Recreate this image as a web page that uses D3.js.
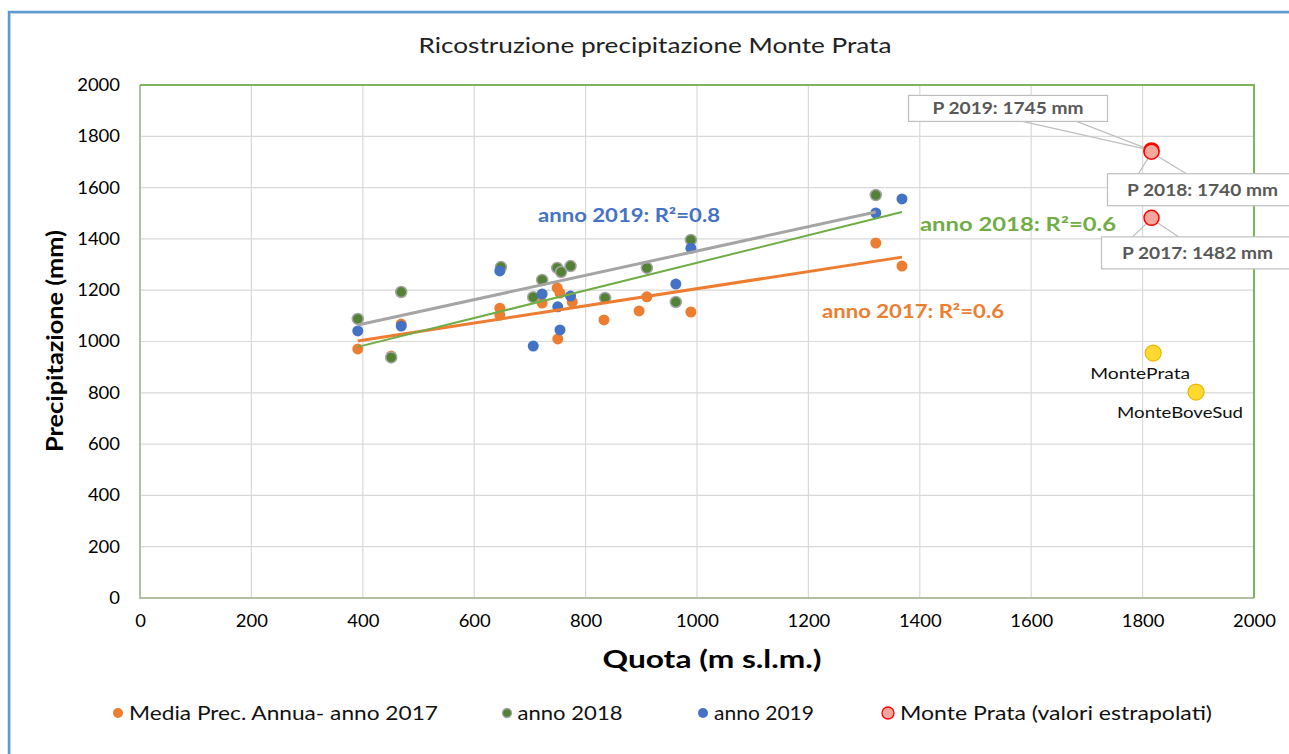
<!DOCTYPE html>
<html>
<head>
<meta charset="utf-8">
<script src="https://cdn.jsdelivr.net/npm/d3@7"></script>
<style>
  body { margin: 0; background: #fff; }
  svg { display: block; font-family: Lato, "Noto Sans", sans-serif; }
</style>
</head>
<body>
<div id="chart"></div>
<script>
// Station data (quota in m, precipitation in mm)
var quota2017 = [391, 451, 469, 646, 646, 722, 749, 750, 754, 776, 833, 896, 910, 989, 1321, 1368];
var prec2017  = [971, 943, 1068, 1130, 1103, 1150, 1209, 1010, 1189, 1154, 1084, 1119, 1174, 1115, 1384, 1294];

var quota2018 = [391, 451, 469, 648, 706, 722, 749, 756, 773, 835, 910, 962, 989, 1321];
var prec2018  = [1088, 938, 1193, 1290, 1173, 1240, 1287, 1271, 1294, 1170, 1287, 1154, 1396, 1571];

var quota2019 = [391, 469, 646, 706, 722, 750, 754, 773, 962, 989, 1321, 1368];
var prec2019  = [1041, 1060, 1275, 982, 1185, 1135, 1045, 1177, 1224, 1364, 1501, 1556];

// Trendline end points
var trendQuota2017 = [391, 1368];
var trendPrec2017  = [1002, 1329];
var trendQuota2018 = [391, 1368];
var trendPrec2018  = [979, 1505];
var trendQuota2019 = [391, 1321];
var trendPrec2019  = [1064, 1505];

// Monte Prata extrapolated values
var mpQuota  = [1816, 1816, 1816];
var mpPrec   = [1745, 1740, 1482];
var mpLabels = ["P 2019: 1745 mm", "P 2018: 1740 mm", "P 2017: 1482 mm"];

// Reference stations
var refNames = ["MontePrata", "MonteBoveSud"];
var refQuota = [1819, 1896];
var refPrec  = [955, 803];

var ticks = [0, 200, 400, 600, 800, 1000, 1200, 1400, 1600, 1800, 2000];

var svg = d3.select("#chart").append("svg")
    .attr("width", 1289)
    .attr("height", 754);

// stretch text to the width it has in the original
function fit(sel, w) {
    sel.attr("textLength", w).attr("lengthAdjust", "spacingAndGlyphs");
}

// Outer frame
svg.append("rect").attr("x", 10).attr("y", 13).attr("width", 1300).attr("height", 800)
    .attr("fill", "none").attr("stroke", "#e3e3e3").attr("stroke-width", 2);
svg.append("path").attr("d", "M9,760 V12 H1300")
    .attr("fill", "none").attr("stroke", "#5b9bd5").attr("stroke-width", 2.5);

var xScale = d3.scaleLinear().domain([0, 2000]).range([140, 1254]);
var yScale = d3.scaleLinear().domain([0, 2000]).range([598, 85]);

// Gridlines
svg.append("g").selectAll("line.v").data(ticks).enter().append("line")
    .attr("x1", d => xScale(d)).attr("x2", d => xScale(d))
    .attr("y1", yScale(0)).attr("y2", yScale(2000))
    .attr("stroke", "#d9d9d9").attr("stroke-width", 1.2);
svg.append("g").selectAll("line.h").data(ticks).enter().append("line")
    .attr("y1", d => yScale(d)).attr("y2", d => yScale(d))
    .attr("x1", xScale(0)).attr("x2", xScale(2000))
    .attr("stroke", "#d9d9d9").attr("stroke-width", 1.2);

// Plot border
svg.append("path")
    .attr("d", `M${xScale(0)},${yScale(2000)} V${yScale(0)} H${xScale(2000)}`)
    .attr("fill", "none").attr("stroke", "#b1bfa2").attr("stroke-width", 2);
svg.append("path")
    .attr("d", `M${xScale(0)},${yScale(2000)} H${xScale(2000)} V${yScale(0)}`)
    .attr("fill", "none").attr("stroke", "#7fb55a").attr("stroke-width", 2);

// Axes (labels only)
var xAxis = d3.axisBottom(xScale).tickValues(ticks).tickFormat(d3.format("d")).tickSize(0).tickPadding(17);
var yAxis = d3.axisLeft(yScale).tickValues(ticks).tickFormat(d3.format("d")).tickSize(0).tickPadding(20);
var gx = svg.append("g").attr("transform", `translate(0, ${yScale(0)})`).call(xAxis);
var gy = svg.append("g").attr("transform", `translate(${xScale(0)}, 0)`).call(yAxis);
[gx, gy].forEach(function(g) {
    g.select(".domain").remove();
    g.selectAll("text").attr("font-size", "17px").attr("fill", "#000")
        .attr("font-family", "Lato, sans-serif")
        .each(function(d) { fit(d3.select(this), String(d).length * 10.7); });
});

// Title and axis titles
svg.append("text").attr("x", 655).attr("y", 53).attr("text-anchor", "middle")
    .attr("font-size", "21px").attr("fill", "#222")
    .text("Ricostruzione precipitazione Monte Prata").call(fit, 473);
svg.append("text").attr("x", 712).attr("y", 668).attr("text-anchor", "middle")
    .attr("font-size", "24px").attr("font-weight", "bold").attr("fill", "#000")
    .text("Quota (m s.l.m.)").call(fit, 219);
svg.append("text").attr("transform", "translate(63, 341) rotate(-90)")
    .attr("text-anchor", "middle")
    .attr("font-size", "22px").attr("font-weight", "bold").attr("fill", "#000")
    .text("Precipitazione (mm)").call(fit, 222);

// Scatter series
function drawPoints(qs, ps, fill, stroke) {
    svg.append("g").selectAll("circle").data(qs).enter().append("circle")
        .attr("cx", d => xScale(d))
        .attr("cy", (d, i) => yScale(ps[i]))
        .attr("r", 5.5)
        .attr("fill", fill)
        .attr("stroke", stroke)
        .attr("stroke-width", stroke === "none" ? 0 : 1.5);
}
drawPoints(quota2017, prec2017, "#ed7d31", "none");
drawPoints(quota2018, prec2018, "#548235", "#a5a5a5");
drawPoints(quota2019, prec2019, "#4472c4", "none");

// Trendlines
function drawTrend(qs, ps, color, w) {
    var line = d3.line().x(d => xScale(d[0])).y(d => yScale(d[1]));
    svg.append("path").datum(qs.map((q, i) => [q, ps[i]]))
        .attr("d", line).attr("fill", "none")
        .attr("stroke", color).attr("stroke-width", w);
}
drawTrend(trendQuota2017, trendPrec2017, "#ed7d31", 3);
drawTrend(trendQuota2018, trendPrec2018, "#70ad47", 2);
drawTrend(trendQuota2019, trendPrec2019, "#a5a5a5", 3);

// R² labels
var r2 = [
    {t: "anno 2019: R²=0.8", x: 538, y: 222, c: "#4472c4", w: 182},
    {t: "anno 2018: R²=0.6", x: 920, y: 231, c: "#70ad47", w: 196},
    {t: "anno 2017: R²=0.6", x: 822, y: 318, c: "#ed7d31", w: 182}
];
svg.append("g").selectAll("text").data(r2).enter().append("text")
    .attr("x", d => d.x).attr("y", d => d.y)
    .attr("font-size", "18px").attr("font-weight", "bold")
    .attr("fill", d => d.c).text(d => d.t)
    .attr("textLength", d => d.w).attr("lengthAdjust", "spacingAndGlyphs");

// Callouts for Monte Prata values
var callouts = [
    {box: [-243, -55, 199, 26], wedge: [[-129, -29], [0, 0], [-75, -29]]},
    {box: [-44, 22, 190, 32], wedge: [[-13, 22], [0, 1], [35, 22]]},
    {box: [-50, 19, 192, 32], wedge: [[-19, 19], [0, 1], [27, 19]]}
];
mpQuota.forEach(function(q, i) {
    var px = xScale(q), py = yScale(mpPrec[i]);
    var c = callouts[i];
    var g = svg.append("g").attr("transform", `translate(${px}, ${py})`);
    g.append("path").attr("d", d3.line()(c.wedge))
        .attr("fill", "none").attr("stroke", "#bfbfbf").attr("stroke-width", 1.2);
    g.append("rect").attr("x", c.box[0]).attr("y", c.box[1])
        .attr("width", c.box[2]).attr("height", c.box[3])
        .attr("fill", "#fff").attr("stroke", "#bfbfbf").attr("stroke-width", 1.2);
    g.append("text").attr("x", c.box[0] + c.box[2] / 2).attr("y", c.box[1] + c.box[3] / 2 + 6)
        .attr("text-anchor", "middle").attr("font-size", "17px").attr("font-weight", "bold")
        .attr("fill", "#595959").text(mpLabels[i]).call(fit, 151);
});
svg.append("g").selectAll("circle").data(mpQuota).enter().append("circle")
    .attr("cx", d => xScale(d)).attr("cy", (d, i) => yScale(mpPrec[i]))
    .attr("r", 7.5).attr("fill", "#f4a79d").attr("stroke", "#ff0000").attr("stroke-width", 1.5);

// Reference stations
var refWidths = [100, 126];
svg.append("g").selectAll("circle").data(refQuota).enter().append("circle")
    .attr("cx", d => xScale(d)).attr("cy", (d, i) => yScale(refPrec[i]))
    .attr("r", 8).attr("fill", "#ffd92f").attr("stroke", "#f0b400").attr("stroke-width", 1.2);
svg.append("g").selectAll("text").data(refNames).enter().append("text")
    .attr("x", (d, i) => xScale(refQuota[i]))
    .attr("y", (d, i) => yScale(refPrec[i]) + 26)
    .attr("text-anchor", "middle").attr("dx", (d, i) => i === 0 ? -13 : -16)
    .attr("font-size", "16px").attr("fill", "#111").text(d => d)
    .attr("textLength", (d, i) => refWidths[i]).attr("lengthAdjust", "spacingAndGlyphs");

// Legend
var legend = [
    {t: "Media Prec. Annua- anno 2017", x: 118, fill: "#ed7d31", stroke: "none", r: 5, w: 309},
    {t: "anno 2018", x: 507, fill: "#548235", stroke: "#a5a5a5", r: 4.5, w: 105},
    {t: "anno 2019", x: 703, fill: "#4472c4", stroke: "none", r: 5, w: 100},
    {t: "Monte Prata (valori estrapolati)", x: 888, fill: "#f4a79d", stroke: "#ff0000", r: 6, w: 312}
];
var lg = svg.append("g").selectAll("g").data(legend).enter().append("g")
    .attr("transform", d => `translate(${d.x}, 713)`);
lg.append("circle").attr("r", d => d.r).attr("fill", d => d.fill)
    .attr("stroke", d => d.stroke).attr("stroke-width", 1.3);
lg.append("text").attr("x", d => d.r + 6).attr("y", 7)
    .attr("font-size", "20px").attr("fill", "#111").text(d => d.t)
    .attr("textLength", d => d.w).attr("lengthAdjust", "spacingAndGlyphs");
</script>
</body>
</html>
